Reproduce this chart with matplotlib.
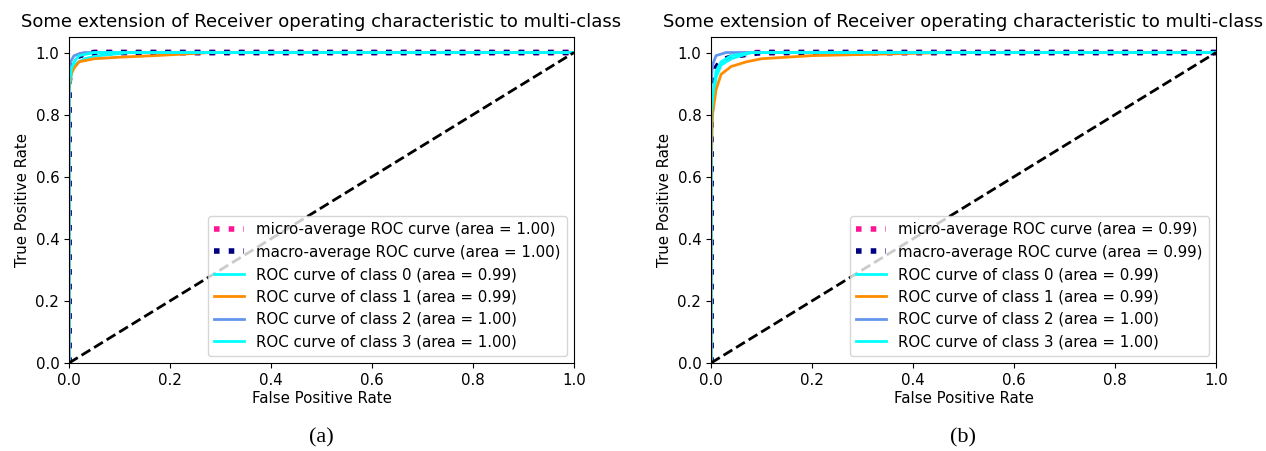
import matplotlib
matplotlib.use('Agg')
import matplotlib.pyplot as plt

TITLE = "Some extension of Receiver operating characteristic to multi-class"
PANELS = ["(a)", "(b)"]
CLASS_COLORS = ['aqua', 'darkorange', 'cornflowerblue', 'cyan']

# panel (a): roc points per curve (fpr, tpr)
A_MICRO_FPR = [0.0, 0.0, 0.004, 0.01, 0.02, 0.04, 1.0]
A_MICRO_TPR = [0.0, 0.90, 0.95, 0.975, 0.99, 1.0, 1.0]
A_MACRO_FPR = [0.0, 0.0, 0.003, 0.01, 0.02, 0.05, 1.0]
A_MACRO_TPR = [0.0, 0.90, 0.96, 0.98, 0.99, 1.0, 1.0]
A_CLASS_FPR = [
    [0.0, 0.0, 0.005, 0.01, 0.03, 0.06, 0.12, 1.0],
    [0.0, 0.0, 0.004, 0.01, 0.02, 0.05, 0.10, 0.17, 0.28, 1.0],
    [0.0, 0.0, 0.003, 0.01, 0.03, 1.0],
    [0.0, 0.0, 0.005, 0.01, 0.02, 0.05, 1.0],
]
A_CLASS_TPR = [
    [0.0, 0.88, 0.93, 0.96, 0.98, 0.99, 1.0, 1.0],
    [0.0, 0.88, 0.93, 0.95, 0.97, 0.98, 0.985, 0.99, 1.0, 1.0],
    [0.0, 0.93, 0.97, 0.99, 1.0, 1.0],
    [0.0, 0.90, 0.95, 0.97, 0.99, 1.0, 1.0],
]
A_AUC = [1.00, 1.00, 0.99, 0.99, 1.00, 1.00]

# panel (b)
B_MICRO_FPR = [0.0, 0.0, 0.004, 0.01, 0.02, 0.04, 0.08, 1.0]
B_MICRO_TPR = [0.0, 0.80, 0.90, 0.95, 0.97, 0.985, 1.0, 1.0]
B_MACRO_FPR = [0.0, 0.0, 0.004, 0.01, 0.02, 0.05, 0.10, 1.0]
B_MACRO_TPR = [0.0, 0.80, 0.90, 0.95, 0.975, 0.99, 1.0, 1.0]
B_CLASS_FPR = [
    [0.0, 0.0, 0.005, 0.01, 0.02, 0.04, 0.08, 1.0],
    [0.0, 0.0, 0.003, 0.01, 0.02, 0.04, 0.07, 0.10, 0.20, 0.47, 1.0],
    [0.0, 0.0, 0.003, 0.01, 0.03, 1.0],
    [0.0, 0.0, 0.005, 0.01, 0.02, 0.04, 0.08, 1.0],
]
B_CLASS_TPR = [
    [0.0, 0.75, 0.85, 0.92, 0.96, 0.98, 1.0, 1.0],
    [0.0, 0.60, 0.80, 0.88, 0.93, 0.955, 0.97, 0.98, 0.99, 1.0, 1.0],
    [0.0, 0.90, 0.96, 0.99, 1.0, 1.0],
    [0.0, 0.80, 0.88, 0.94, 0.97, 0.99, 1.0, 1.0],
]
B_AUC = [0.99, 0.99, 0.99, 0.99, 1.00, 1.00]

DATA = [
    (A_MICRO_FPR, A_MICRO_TPR, A_MACRO_FPR, A_MACRO_TPR, A_CLASS_FPR, A_CLASS_TPR, A_AUC),
    (B_MICRO_FPR, B_MICRO_TPR, B_MACRO_FPR, B_MACRO_TPR, B_CLASS_FPR, B_CLASS_TPR, B_AUC),
]

plt.rcParams['font.size'] = 10.8
fig = plt.figure(figsize=(12.66, 4.51), dpi=100)
lefts = [69 / 1266, 711 / 1266]
for k, (mf, mt, af, at, cf, ct, auc) in enumerate(DATA):
    ax = fig.add_axes([lefts[k], 1 - 363 / 451, 505 / 1266, (363 - 37) / 451])
    ax.plot(mf, mt, label=f'micro-average ROC curve (area = {auc[0]:.2f})',
            color='deeppink', linestyle=':', linewidth=4)
    ax.plot(af, at, label=f'macro-average ROC curve (area = {auc[1]:.2f})',
            color='navy', linestyle=':', linewidth=4)
    for i, color in enumerate(CLASS_COLORS):
        ax.plot(cf[i], ct[i], color=color, lw=2,
                label=f'ROC curve of class {i} (area = {auc[2 + i]:.2f})')
    ax.plot([0, 1], [0, 1], 'k--', lw=2)
    ax.set_xlim([0.0, 1.0])
    ax.set_ylim([0.0, 1.05])
    ax.set_xlabel('False Positive Rate', labelpad=2)
    ax.set_ylabel('True Positive Rate')
    ax.set_title(TITLE, fontsize=13, pad=7)
    ax.legend(loc="lower right", fontsize=10.8)
    fig.text(lefts[k] + 0.5 * 505 / 1266, 1 - 438 / 451, PANELS[k],
             ha='center', va='center', fontsize=16, family='Liberation Serif')

fig.savefig("out.png", dpi=100)
